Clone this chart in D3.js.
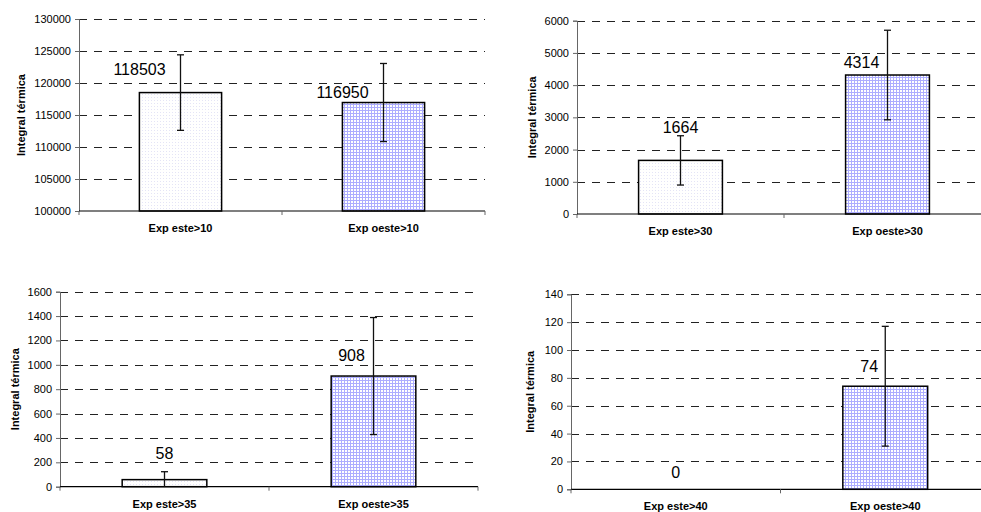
<!DOCTYPE html>
<html>
<head>
<meta charset="utf-8">
<script src="https://cdn.jsdelivr.net/npm/d3@7"></script>
<style>
  body { margin: 0; background: #fff; }
  svg { display: block; font-family: "Liberation Sans", Arial, sans-serif; }
  .tick text { font-size: 11px; fill: #000; }
</style>
</head>
<body>
<svg id="chart" width="981" height="512"></svg>
<script>
// data
const categories = [
  ["Exp este>10", "Exp oeste>10"],
  ["Exp este>30", "Exp oeste>30"],
  ["Exp este>35", "Exp oeste>35"],
  ["Exp este>40", "Exp oeste>40"]
];
const means  = [[118503, 116950], [1664, 4314], [58, 908], [0, 74]];
const errors = [[5900, 6100], [765, 1390], [65, 480], [0, 43]];
const yDomains = [[100000, 130000], [0, 6000], [0, 1600], [0, 140]];
const yStep = [5000, 1000, 200, 20];
const yTitle = "Integral térmica";

// panel geometry (pixels)
const layout = [
  {x0: 79,  x1: 485, yTop: 19,    yBot: 211,   titleX: 21},
  {x0: 577, x1: 991, yTop: 20.7,  yBot: 214,   titleX: 532},
  {x0: 60,  x1: 478, yTop: 291.7, yBot: 486.7, titleX: 15},
  {x0: 571, x1: 990, yTop: 294.3, yBot: 489.3, titleX: 530}
];
// manual nudges of the value labels: [dx from bar centre, dy above bar top]
const labelNudge = [
  [[-41, 18], [-41, 5]],
  [[0, 27], [-26, 7]],
  [[0, 21], [-22, 15]],
  [[0, 11], [-16, 14]]
];

const svg = d3.select("#chart");
const defs = svg.append("defs");

// faint dotted fill for the "este" bars
const dots = defs.append("pattern").attr("id", "dots")
  .attr("width", 3).attr("height", 3).attr("patternUnits", "userSpaceOnUse");
dots.append("rect").attr("width", 3).attr("height", 3).attr("fill", "#fff");
dots.append("rect").attr("x", 1).attr("y", 1).attr("width", 1).attr("height", 1).attr("fill", "#e4e4f6");

// blue grid fill for the "oeste" bars
const grid = defs.append("pattern").attr("id", "grid")
  .attr("width", 3).attr("height", 3).attr("patternUnits", "userSpaceOnUse");
grid.append("rect").attr("width", 3).attr("height", 3).attr("fill", "#fff");
grid.append("rect").attr("x", 2).attr("width", 1).attr("height", 3).attr("fill", "#adadff");
grid.append("rect").attr("y", 2).attr("width", 3).attr("height", 1).attr("fill", "#adadff");

const fills = ["url(#dots)", "url(#grid)"];

function drawPanel(i) {
  const L = layout[i];
  const g = svg.append("g");
  const dom = yDomains[i];

  const y = d3.scaleLinear().domain(dom).range([L.yBot, L.yTop]);
  const x = d3.scaleBand().domain(categories[i]).range([L.x0, L.x1])
    .paddingInner(0.595).paddingOuter(0.2975);

  const ticks = d3.range(dom[0], dom[1] + yStep[i] / 2, yStep[i]);

  // dashed gridlines
  g.selectAll(".grid").data(ticks.slice(1)).enter().append("line")
    .attr("x1", L.x0).attr("x2", L.x1)
    .attr("y1", d => Math.round(y(d)) + 0.5).attr("y2", d => Math.round(y(d)) + 0.5)
    .attr("stroke", "#222").attr("stroke-width", 1)
    .attr("stroke-dasharray", "8,7");

  // y axis
  const ya = g.append("g").attr("transform", `translate(${L.x0},0)`)
    .call(d3.axisLeft(y).tickValues(ticks).tickSize(4).tickPadding(4).tickFormat(d3.format("d")));
  ya.select(".domain").attr("stroke", "#666");
  ya.selectAll(".tick line").attr("stroke", "#666");
  ya.selectAll("text").attr("font-family", "Liberation Sans, Arial, sans-serif");

  // bars
  g.selectAll(".bar").data(means[i]).enter().append("rect")
    .attr("x", (d, j) => x(categories[i][j]))
    .attr("width", x.bandwidth())
    .attr("y", d => y(d))
    .attr("height", d => y(dom[0]) - y(d))
    .attr("fill", (d, j) => fills[j])
    .attr("stroke", "#000").attr("stroke-width", 1.5);

  // x axis
  const step = (L.x1 - L.x0) / 2;
  g.append("line").attr("x1", L.x0).attr("x2", L.x1)
    .attr("y1", L.yBot).attr("y2", L.yBot)
    .attr("stroke", "#000").attr("stroke-width", 1.2);
  g.selectAll(".xtick").data([0, 1, 2]).enter().append("line")
    .attr("x1", k => L.x0 + k * step).attr("x2", k => L.x0 + k * step)
    .attr("y1", L.yBot).attr("y2", L.yBot + 4)
    .attr("stroke", "#666");
  g.selectAll(".xlab").data(categories[i]).enter().append("text")
    .attr("x", d => x(d) + x.bandwidth() / 2)
    .attr("y", L.yBot + 21)
    .attr("text-anchor", "middle")
    .attr("font-size", 11).attr("font-weight", "bold")
    .text(d => d);

  // error bars
  const cx = j => x(categories[i][j]) + x.bandwidth() / 2;
  means[i].forEach((m, j) => {
    const e = errors[i][j];
    if (e <= 0) return;
    const hi = Math.min(m + e, dom[1]), lo = Math.max(m - e, dom[0]);
    const eb = g.append("g").attr("stroke", "#111").attr("stroke-width", 1.3);
    eb.append("line").attr("x1", cx(j)).attr("x2", cx(j)).attr("y1", y(hi)).attr("y2", y(lo));
    if (m + e <= dom[1]) eb.append("line").attr("x1", cx(j) - 3.5).attr("x2", cx(j) + 3.5).attr("y1", y(hi)).attr("y2", y(hi));
    if (m - e >= dom[0]) eb.append("line").attr("x1", cx(j) - 3.5).attr("x2", cx(j) + 3.5).attr("y1", y(lo)).attr("y2", y(lo));
  });

  // value labels
  g.selectAll(".val").data(means[i]).enter().append("text")
    .attr("x", (d, j) => cx(j) + labelNudge[i][j][0])
    .attr("y", (d, j) => y(d) - labelNudge[i][j][1])
    .attr("text-anchor", "middle")
    .attr("font-size", 16)
    .text(d => d);

  // y title
  g.append("text")
    .attr("transform", `translate(${L.titleX},${(L.yTop + L.yBot) / 2}) rotate(-90)`)
    .attr("text-anchor", "middle").attr("dy", "0.35em")
    .attr("font-size", 11).attr("font-weight", "bold")
    .text(yTitle);
}

d3.range(4).forEach(drawPanel);
</script>
</body>
</html>
